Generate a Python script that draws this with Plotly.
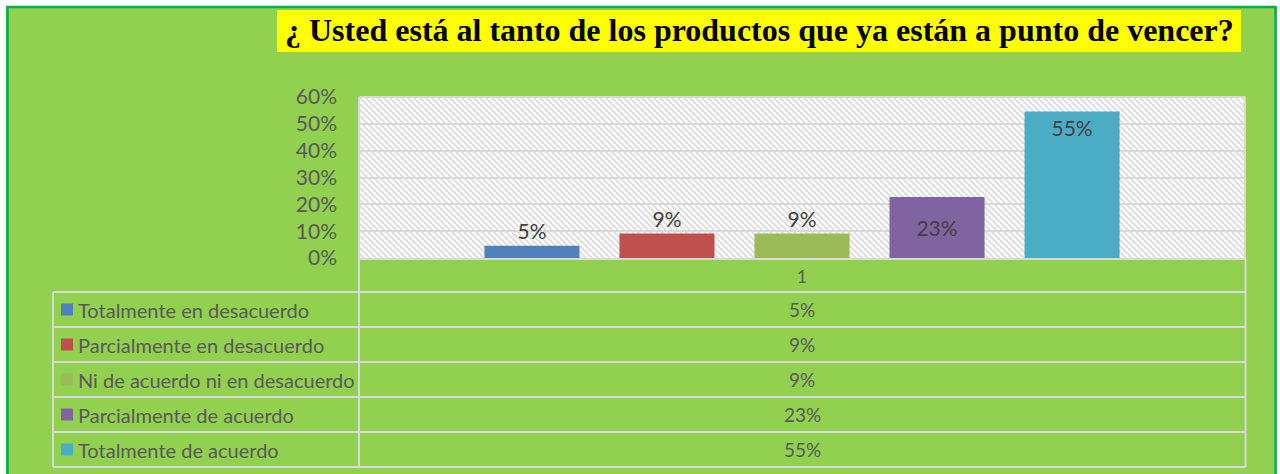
import base64
import plotly.graph_objects as go

# data
title = "¿ Usted está al tanto de los productos que ya están a punto de vencer?"
category = ["1"]
series_names = [
    "Totalmente en desacuerdo",
    "Parcialmente en desacuerdo",
    "Ni de acuerdo ni en desacuerdo",
    "Parcialmente de acuerdo",
    "Totalmente de acuerdo",
]
series_values = [0.0455, 0.0909, 0.0909, 0.2273, 0.5455]
series_colors = ["#4F81BD", "#C0504D", "#9BBB59", "#8064A2", "#4BACC6"]
label_positions = ["outside", "outside", "outside", "inside", "inside"]
label_anchor = ["middle", "middle", "middle", "middle", "end"]

W, H = 1280, 474
L, T, PW, PH = 359, 97, 886, 161  # plot area in pixels


def px(x):
    return (x - L) / PW


def py(y):
    return (T + PH - y) / PH


TXT = "#595959"
GRID = "#D9D9D9"
FONT = "Lato"

fig = go.Figure()
for name, v, c, pos, anc in zip(series_names, series_values, series_colors,
                                label_positions, label_anchor):
    fig.add_trace(go.Bar(
        x=category, y=[v], name=name,
        marker=dict(color=c, line=dict(width=0)),
        text=[f"{v:.0%}"], textposition=pos, insidetextanchor=anc,
        textfont=dict(color="#404040", size=21, family=FONT),
        constraintext="none", cliponaxis=False,
    ))

# hatched plot background
svg = (
    f"<svg xmlns='http://www.w3.org/2000/svg' width='{PW}' height='{PH}'>"
    "<defs><pattern id='p' width='6' height='6' patternUnits='userSpaceOnUse'>"
    "<rect width='6' height='6' fill='white'/>"
    "<path d='M-1,-1 L7,7 M-1,5 L1,7 M5,-1 L7,1' stroke='#DCDCDC' stroke-width='1.8'/>"
    "</pattern></defs><rect width='100%' height='100%' fill='url(#p)'/></svg>"
)
src = "data:image/svg+xml;base64," + base64.b64encode(svg.encode()).decode()

shapes = [
    # white margins and green frame
    dict(type="rect", xref="paper", yref="paper", x0=px(0), x1=px(W), y0=py(0), y1=py(6),
         fillcolor="white", line=dict(width=0), layer="below"),
    dict(type="rect", xref="paper", yref="paper", x0=px(0), x1=px(6), y0=py(0), y1=py(H),
         fillcolor="white", line=dict(width=0), layer="below"),
    dict(type="rect", xref="paper", yref="paper", x0=px(1277), x1=px(W), y0=py(0), y1=py(H),
         fillcolor="white", line=dict(width=0), layer="below"),
    dict(type="rect", xref="paper", yref="paper", x0=px(7.5), x1=px(1275.5), y0=py(7), y1=py(490),
         line=dict(color="#00B050", width=2.5)),
    # title box
    dict(type="rect", xref="paper", yref="paper", x0=px(277), x1=px(1241), y0=py(10), y1=py(52),
         fillcolor="#FFFF00", line=dict(width=0), layer="below"),
    # plot frame (left, top, right)
    dict(type="line", xref="paper", yref="paper", x0=0, x1=0, y0=0, y1=1, line=dict(color=GRID, width=2)),
    dict(type="line", xref="paper", yref="paper", x0=0, x1=1, y0=1, y1=1, line=dict(color=GRID, width=2)),
    dict(type="line", xref="paper", yref="paper", x0=1, x1=1, y0=0, y1=1, line=dict(color=GRID, width=2)),
]

# data table lines
rows_top = 292
row_h = 35
n = len(series_names)
tab_l, tab_m, tab_r = 53, 359, 1245.5
for i in range(n + 1):
    yy = rows_top + i * row_h
    shapes.append(dict(type="line", xref="paper", yref="paper", x0=px(tab_l), x1=px(tab_r),
                       y0=py(yy), y1=py(yy), line=dict(color=GRID, width=2)))
shapes.append(dict(type="line", xref="paper", yref="paper", x0=px(tab_l), x1=px(tab_l),
                   y0=py(rows_top), y1=py(rows_top + n * row_h), line=dict(color=GRID, width=2)))
for xx in (tab_m, tab_r):
    shapes.append(dict(type="line", xref="paper", yref="paper", x0=px(xx), x1=px(xx),
                       y0=py(258), y1=py(rows_top + n * row_h), line=dict(color=GRID, width=2)))

annotations = [
    dict(text=f"<b>{title}</b>", xref="paper", yref="paper", x=px(759), y=py(30),
         xanchor="center", yanchor="middle", showarrow=False,
         font=dict(family="Liberation Serif", size=32, color="black")),
]
for i, (name, v, c) in enumerate(zip(series_names, series_values, series_colors)):
    cy = rows_top + i * row_h + row_h / 2
    shapes.append(dict(type="rect", xref="paper", yref="paper", x0=px(61), x1=px(73),
                       y0=py(cy - 6), y1=py(cy + 6), fillcolor=c, line=dict(width=0)))
    annotations.append(dict(text=name, xref="paper", yref="paper", x=px(76), y=py(cy),
                            xanchor="left", yanchor="middle", showarrow=False,
                            font=dict(family=FONT, size=20, color=TXT)))
    annotations.append(dict(text=f"{v:.0%}", xref="paper", yref="paper", x=px(802), y=py(cy),
                            xanchor="center", yanchor="middle", showarrow=False,
                            font=dict(family=FONT, size=19, color=TXT)))

fig.update_layout(
    width=W, height=H,
    margin=dict(l=L, r=W - L - PW, t=T, b=H - T - PH, pad=0),
    paper_bgcolor="#92D050", plot_bgcolor="rgba(0,0,0,0)",
    barmode="group", bargap=0.238, bargroupgap=0.296,
    showlegend=False,
    shapes=shapes, annotations=annotations,
    images=[dict(source=src, xref="paper", yref="paper", x=0, y=1, sizex=1, sizey=1,
                 xanchor="left", yanchor="top", sizing="stretch", layer="below")],
    xaxis=dict(showgrid=False, showline=True, linecolor=GRID, linewidth=2, ticks="",
               tickfont=dict(family=FONT, size=17, color=TXT), ticklabelstandoff=3),
    yaxis=dict(range=[0, 0.6], dtick=0.1, tickformat=".0%", showgrid=True, gridcolor=GRID,
               gridwidth=2, zeroline=False, showline=False, ticks="",
               tickfont=dict(family=FONT, size=21, color=TXT), ticklabelstandoff=21),
)

fig.write_html("out.html", config={"displayModeBar": False},
               post_script="document.body.style.margin='0px';")
